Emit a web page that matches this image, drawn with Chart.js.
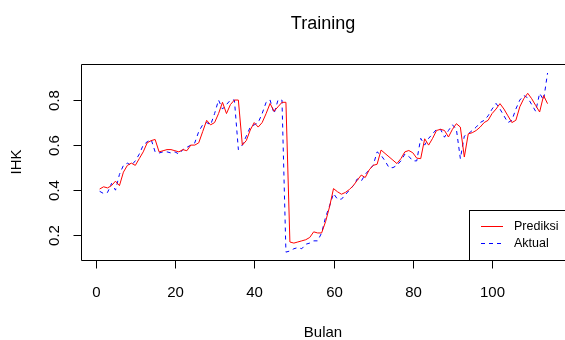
<!DOCTYPE html>
<html>
<head>
<meta charset="utf-8">
<script src="https://cdn.jsdelivr.net/npm/chart.js@4/dist/chart.umd.min.js"></script>
<style>
html,body{margin:0;padding:0;background:#fff;}
#wrap{width:565px;height:340px;position:relative;}
</style>
</head>
<body>
<div id="wrap"><canvas id="c" width="565" height="340"></canvas></div>
<script>
const chartTitle = "Training";
const xTitle = "Bulan";
const yTitle = "IHK";
const seriesNames = ["Prediksi", "Aktual"];
const xTickValues = [0, 20, 40, 60, 80, 100];
const xTickLabels = ["0", "20", "40", "60", "80", "100"];
const yTickValues = [0.2, 0.4, 0.6, 0.8];
const yTickLabels = ["0.2", "0.4", "0.6", "0.8"];

// month index 1..114
const bulan = Array.from({length: 114}, (_, i) => i + 1);

const prediksi = [
 0.405,0.415,0.41,0.42,0.44,0.42,0.48,0.51,0.52,0.51,
 0.54,0.57,0.61,0.62,0.625,0.57,0.575,0.58,0.58,0.575,
 0.57,0.58,0.575,0.60,0.60,0.61,0.66,0.71,0.69,0.70,
 0.74,0.79,0.74,0.78,0.80,0.80,0.60,0.62,0.667,0.70,
 0.68,0.70,0.74,0.785,0.75,0.77,0.79,0.79,0.17,0.165,
 0.17,0.175,0.18,0.19,0.215,0.21,0.21,0.26,0.326,0.407,
 0.393,0.382,0.39,0.403,0.42,0.444,0.467,0.456,0.49,0.51,
 0.515,0.578,0.563,0.548,0.533,0.518,0.54,0.57,0.576,0.566,
 0.542,0.54,0.628,0.60,0.63,0.665,0.67,0.665,0.636,0.67,
 0.695,0.68,0.547,0.65,0.655,0.665,0.68,0.70,0.71,0.74,
 0.76,0.784,0.76,0.73,0.70,0.71,0.77,0.806,0.83,0.806,
 0.776,0.747,0.82,0.784
];

const aktual = [
 0.395,0.385,0.39,0.43,0.40,0.47,0.51,0.52,0.51,0.53,
 0.56,0.60,0.615,0.625,0.57,0.565,0.57,0.57,0.565,0.57,
 0.56,0.58,0.59,0.60,0.61,0.66,0.69,0.70,0.69,0.74,
 0.80,0.76,0.78,0.80,0.80,0.58,0.60,0.64,0.68,0.69,
 0.70,0.74,0.79,0.80,0.74,0.80,0.80,0.125,0.13,0.14,
 0.145,0.14,0.16,0.165,0.175,0.175,0.21,0.28,0.33,0.385,
 0.36,0.36,0.38,0.40,0.42,0.45,0.44,0.47,0.49,0.51,
 0.57,0.555,0.53,0.50,0.50,0.51,0.53,0.56,0.55,0.53,
 0.53,0.63,0.60,0.63,0.65,0.67,0.67,0.635,0.665,0.69,
 0.67,0.54,0.64,0.65,0.665,0.68,0.70,0.71,0.73,0.76,
 0.785,0.76,0.73,0.70,0.71,0.76,0.80,0.82,0.81,0.78,
 0.75,0.83,0.80,0.92
];

const FONT = "'Liberation Sans', Arial, sans-serif";

const decor = {
  id: 'decor',
  afterDraw(chart) {
    const ctx = chart.ctx;
    const a = chart.chartArea;
    const xs = chart.scales.x, ys = chart.scales.y;
    ctx.save();
    // box
    ctx.strokeStyle = '#000';
    ctx.lineWidth = 1;
    ctx.beginPath();
    ctx.rect(Math.round(a.left) + 0.5, Math.round(a.top) + 0.5,
             Math.round(a.right - a.left) + 1, Math.round(a.bottom - a.top));
    ctx.stroke();
    const bottom = Math.round(a.bottom) + 0.5;
    const left = Math.round(a.left) + 0.5;
    // x ticks
    ctx.fillStyle = '#000';
    ctx.font = '15px ' + FONT;
    ctx.textAlign = 'center';
    ctx.textBaseline = 'middle';
    xTickValues.forEach((v, i) => {
      const px = Math.round(xs.getPixelForValue(v)) + 0.5;
      ctx.beginPath();
      ctx.moveTo(px, bottom);
      ctx.lineTo(px, bottom + 8);
      ctx.stroke();
      ctx.fillText(xTickLabels[i], px, 293);
    });
    // y ticks
    yTickValues.forEach((v, i) => {
      const py = Math.round(ys.getPixelForValue(v)) + 0.5;
      ctx.beginPath();
      ctx.moveTo(left, py);
      ctx.lineTo(left - 8, py);
      ctx.stroke();
      ctx.save();
      ctx.translate(55, py);
      ctx.rotate(-Math.PI / 2);
      ctx.fillText(yTickLabels[i], 0, 0);
      ctx.restore();
    });
    // axis titles
    ctx.fillText(xTitle, (a.left + a.right) / 2, 333);
    ctx.save();
    ctx.translate(17, (a.top + a.bottom) / 2);
    ctx.rotate(-Math.PI / 2);
    ctx.fillText(yTitle, 0, 0);
    ctx.restore();
    // title
    ctx.font = '18px ' + FONT;
    ctx.fillText(chartTitle, (a.left + a.right) / 2, 24);
    // legend
    ctx.fillStyle = '#fff';
    ctx.fillRect(469.5, 210.5, 100, Math.round(a.bottom) - 210);
    ctx.strokeStyle = '#000';
    ctx.strokeRect(469.5, 210.5, 100, Math.round(a.bottom) - 210);
    ctx.strokeStyle = '#ff0000';
    ctx.beginPath(); ctx.moveTo(481, 226.5); ctx.lineTo(503, 226.5); ctx.stroke();
    ctx.strokeStyle = '#0000ff';
    ctx.setLineDash([4, 4]);
    ctx.beginPath(); ctx.moveTo(481, 243.5); ctx.lineTo(504, 243.5); ctx.stroke();
    ctx.setLineDash([]);
    ctx.fillStyle = '#000';
    ctx.font = '12.5px ' + FONT;
    ctx.textAlign = 'left';
    ctx.fillText(seriesNames[0], 514, 227);
    ctx.fillText(seriesNames[1], 514, 244);
    ctx.restore();
  }
};

new Chart(document.getElementById('c'), {
  type: 'line',
  data: {
    datasets: [
      {
        label: seriesNames[0],
        data: bulan.map((b, i) => ({x: b, y: prediksi[i]})),
        borderColor: '#ff0000',
        borderWidth: 1,
        pointRadius: 0,
        tension: 0,
        fill: false
      },
      {
        label: seriesNames[1],
        data: bulan.map((b, i) => ({x: b, y: aktual[i]})),
        borderColor: '#0000ff',
        borderWidth: 1,
        borderDash: [4, 4],
        pointRadius: 0,
        tension: 0,
        fill: false
      }
    ]
  },
  options: {
    responsive: false,
    animation: false,
    devicePixelRatio: 1,
    layout: { padding: { left: 81, right: 0, top: 64, bottom: 80 } },
    plugins: { legend: { display: false }, tooltip: { enabled: false }, title: { display: false } },
    scales: {
      x: { type: 'linear', min: -3.7, max: 118.4, display: false },
      y: { type: 'linear', min: 0.09, max: 0.96, display: false }
    }
  },
  plugins: [decor]
});
</script>
</body>
</html>
